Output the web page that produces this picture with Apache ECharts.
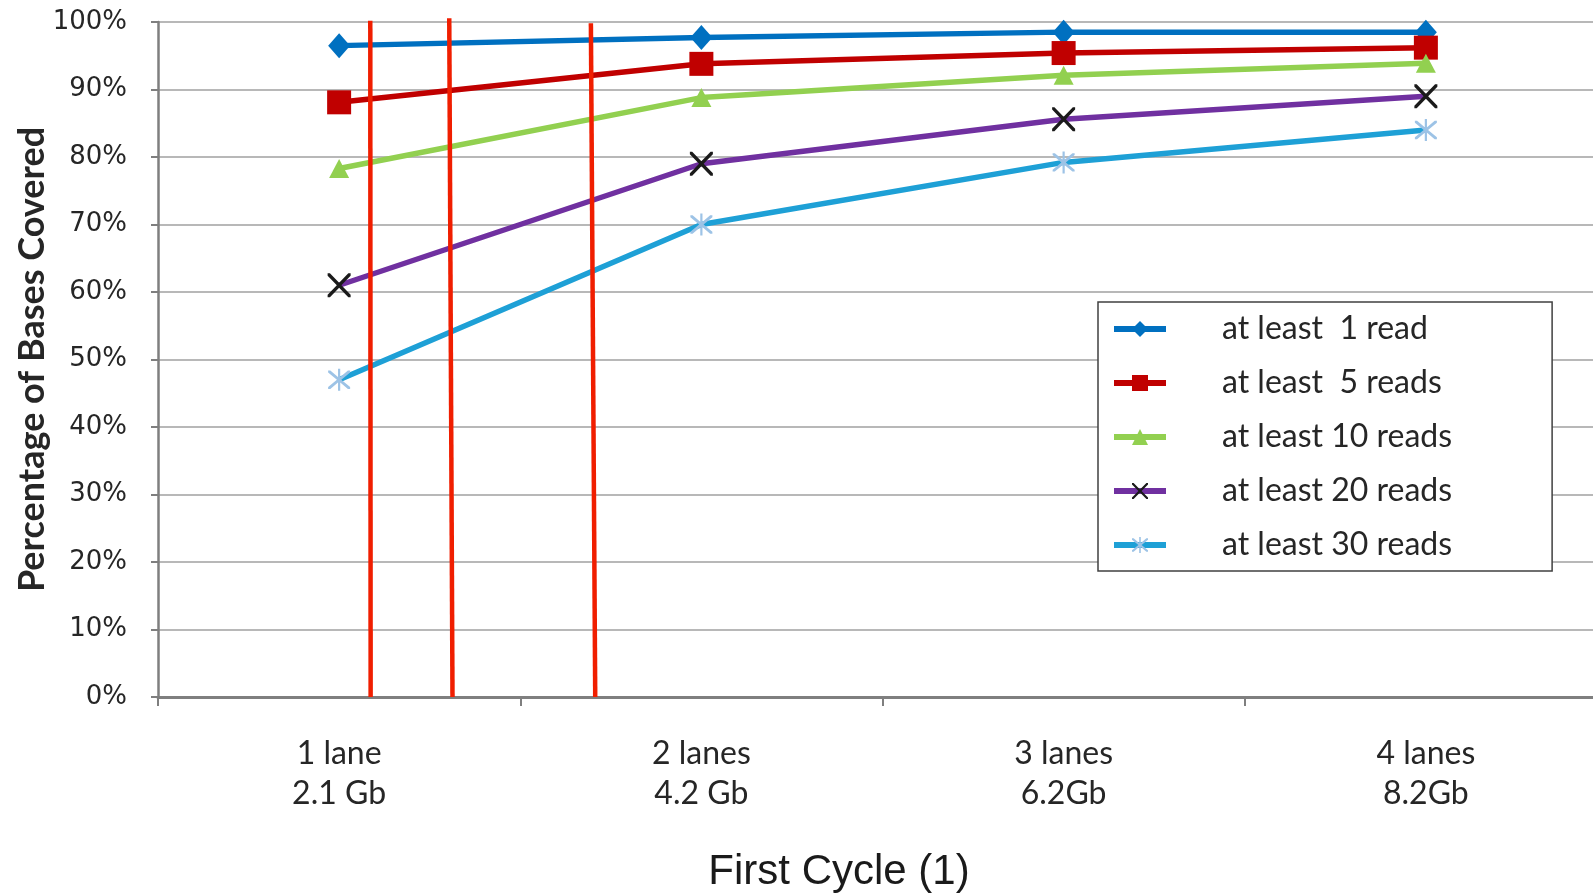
<!DOCTYPE html>
<html>
<head>
<meta charset="utf-8">
<script src="https://cdn.jsdelivr.net/npm/echarts@6/dist/echarts.min.js"></script>
<style>
  html, body { margin: 0; padding: 0; background: #ffffff; }
  #chart { width: 1593px; height: 893px; }
</style>
</head>
<body>
<div id="chart"></div>
<script>
// Sequencing depth per run (lanes / yield)
const categories = ['1 lane\n2.1 Gb', '2 lanes\n4.2 Gb', '3 lanes\n6.2Gb', '4 lanes\n8.2Gb'];

// Percentage of bases covered at each minimum read depth
const seriesNames = ['at least  1 read', 'at least  5 reads', 'at least 10 reads', 'at least 20 reads', 'at least 30 reads'];
const atLeast1 = [96.5, 97.7, 98.5, 98.5];
const atLeast5 = [88.1, 93.8, 95.4, 96.2];
const atLeast10 = [78.3, 88.8, 92.1, 93.9];
const atLeast20 = [61.0, 79.0, 85.6, 89.0];
const atLeast30 = [47.0, 70.0, 79.2, 84.0];

// Red reference lines, in category-band units: [x at 0%, x at top], and top value in %
const guideX = [[0.587, 0.586], [0.813, 0.804], [1.207, 1.195]];
const guideTop = [100.2, 100.55, 99.8];

const yTicks = { min: 0, max: 100, interval: 10 };

const crossPath = 'path://M0,0 L2,0 L10,8 L18,0 L20,0 L20,2 L12,10 L20,18 L20,20 L18,20 L10,12 L2,20 L0,20 L0,18 L8,10 L0,2 Z';
const starPath = 'path://M0,0 L2,0 L10,8 L18,0 L20,0 L20,2 L12,10 L20,18 L20,20 L18,20 L10,12 L2,20 L0,20 L0,18 L8,10 L0,2 Z M9,-2 L11,-2 L11,22 L9,22 Z';

const styles = [
  { line: '#0070c0', mark: '#0070c0', symbol: 'diamond', size: [22, 25] },
  { line: '#c00000', mark: '#c00000', symbol: 'rect', size: [24, 24] },
  { line: '#92d050', mark: '#92d050', symbol: 'triangle', size: [20, 19] },
  { line: '#7030a0', mark: '#1a1a1a', symbol: crossPath, size: [23, 24] },
  { line: '#1ea0d6', mark: '#9dc3e6', symbol: starPath, size: [22, 22] }
];
const values = [atLeast1, atLeast5, atLeast10, atLeast20, atLeast30];

const dataSeries = values.map((vals, i) => ({
  name: seriesNames[i],
  type: 'line',
  data: vals,
  symbol: styles[i].symbol,
  symbolSize: styles[i].size,
  showAllSymbol: true,
  lineStyle: { color: styles[i].line, width: 5.5 },
  itemStyle: { color: styles[i].mark },
  z: 3 + i
}));

const guideSeries = guideX.map((xs, i) => ({
  name: 'guide' + i,
  type: 'line',
  xAxisIndex: 1,
  data: [[xs[0], 0], [xs[1], guideTop[i]]],
  symbol: 'none',
  clip: false,
  silent: true,
  lineStyle: { color: '#f01e00', width: 4.5 },
  z: 20
}));

const chart = echarts.init(document.getElementById('chart'), null, { renderer: 'canvas' });
chart.setOption({
  animation: false,
  backgroundColor: '#ffffff',
  grid: { left: 158, top: 22, width: 1449, height: 675, containLabel: false, outerBoundsMode: 'none' },
  legend: {
    data: seriesNames,
    orient: 'vertical',
    left: 1098,
    top: 302,
    padding: [11, 100, 10, 13],
    itemWidth: 52,
    itemHeight: 20,
    itemGap: 22,
    backgroundColor: '#ffffff',
    borderColor: '#404040',
    borderWidth: 1.5,
    borderRadius: 0,
    lineStyle: { width: 6 },
    textStyle: { fontFamily: 'Lato', fontSize: 32, color: '#262626', lineHeight: 28, padding: [0, 0, 0, 51] }
  },
  xAxis: [
    {
      type: 'category',
      data: categories,
      boundaryGap: true,
      axisLine: { show: true, lineStyle: { color: '#7f7f7f', width: 3 } },
      axisTick: { show: true, length: 9, lineStyle: { color: '#7f7f7f', width: 2 } },
      axisLabel: { fontFamily: 'Lato', fontSize: 32, color: '#262626', lineHeight: 40, margin: 37 },
      splitLine: { show: false }
    },
    {
      type: 'value',
      min: 0,
      max: 4,
      show: false
    }
  ],
  yAxis: {
    type: 'value',
    min: yTicks.min,
    max: yTicks.max,
    interval: yTicks.interval,
    name: 'Percentage of Bases Covered',
    nameLocation: 'middle',
    nameRotate: 90,
    nameGap: 108,
    nameMoveOverlap: false,
    nameTextStyle: { fontFamily: 'Lato', fontWeight: 'bold', fontSize: 36, color: '#262626' },
    axisLine: { show: true, lineStyle: { color: '#7f7f7f', width: 2.5 } },
    axisTick: { show: true, length: 7, lineStyle: { color: '#7f7f7f', width: 2 } },
    axisLabel: { formatter: '{value}%', fontFamily: 'DejaVu Sans', fontSize: 26, color: '#262626', margin: 31 },
    splitLine: { show: true, lineStyle: { color: '#b8b8b8', width: 2 } }
  },
  graphic: [
    {
      type: 'text',
      x: 839,
      y: 872,
      style: { text: 'First Cycle (1)', fontFamily: 'Liberation Sans', fontSize: 42, fill: '#1a1a1a', align: 'center', verticalAlign: 'middle' }
    }
  ],
  series: dataSeries.concat(guideSeries)
});
</script>
</body>
</html>
